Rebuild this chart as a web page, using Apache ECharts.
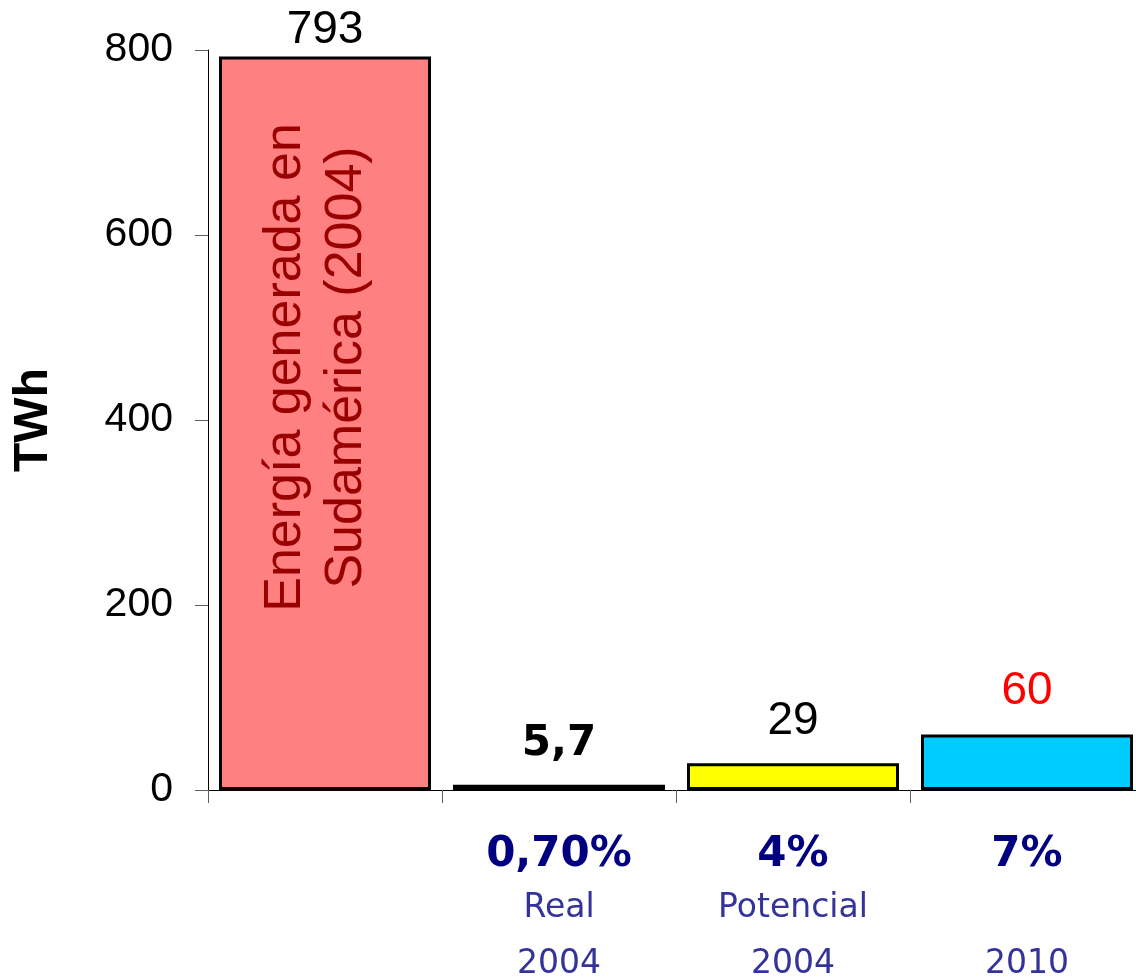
<!DOCTYPE html>
<html>
<head>
<meta charset="utf-8">
<script src="https://cdn.jsdelivr.net/npm/echarts@6/dist/echarts.min.js"></script>
<style>html,body{margin:0;padding:0;background:#fff;}#c{width:1136px;height:977px;}</style>
</head>
<body>
<div id="c"></div>
<script>
const categories = ['total', 'real2004', 'pot2004', 'fut2010'];
const pctLabels = ['', '0,70%', '4%', '7%'];
const subLabels = ['', 'Real', 'Potencial', ' '];
const yearLabels = ['', '2004', '2004', '2010'];
const values = [793, 5.7, 29, 60];
const valueLabels = ['793', '5,7', '29', '60'];
const barColors = ['#FF8080', '#800000', '#FFFF00', '#00CCFF'];
const valueLabelColors = ['#000000', '#000000', '#000000', '#FF0000'];
const valueLabelFonts = ['Liberation Sans', 'DejaVu Sans', 'Liberation Sans', 'Liberation Sans'];
const valueLabelWeights = ['normal', 'bold', 'normal', 'normal'];
const valueLabelSizes = [46, 42, 46, 46];
const valueLabelDistances = [3, 20, 19, 20];
const insideText = 'Energía generada en\nSudamérica (2004)';
const yTicks = { min: 0, max: 800, interval: 200 };

const chart = echarts.init(document.getElementById('c'), null, { renderer: 'canvas' });

const mainData = values.map((v, i) => ({
  value: v,
  itemStyle: { color: barColors[i], borderColor: '#000', borderWidth: 3 },
  label: {
    show: true,
    position: 'top',
    distance: valueLabelDistances[i],
    formatter: valueLabels[i],
    color: valueLabelColors[i],
    fontFamily: valueLabelFonts[i],
    fontWeight: valueLabelWeights[i],
    fontSize: valueLabelSizes[i]
  }
}));

const overlayData = values.map((v, i) => i === 0 ? {
  value: v,
  label: {
    show: true,
    position: ['45.6%', '42.4%'],
    rotate: 90,
    align: 'center',
    verticalAlign: 'middle',
    formatter: insideText,
    color: '#990000',
    fontFamily: 'Liberation Sans',
    fontSize: 52,
    lineHeight: 61,
    textShadowColor: '#b8b8b8',
    textShadowOffsetX: 2,
    textShadowOffsetY: 2,
    textShadowBlur: 0
  }
} : '-');

chart.setOption({
  animation: false,
  backgroundColor: '#ffffff',
  grid: { left: 208, top: 50, bottom: 187, right: -8, containLabel: false, outerBoundsMode: 'none' },
  xAxis: {
    type: 'category',
    data: categories,
    axisLine: { show: true, lineStyle: { color: '#000', width: 1 } },
    axisTick: { show: true, length: 13, alignWithLabel: false, lineStyle: { color: '#606060' } },
    axisLabel: {
      interval: 0,
      margin: 40,
      formatter: (val, idx) => idx === 0 ? '' : '{a|' + pctLabels[idx] + '}\n{b|' + subLabels[idx] + '}\n{c|' + yearLabels[idx] + '}',
      rich: {
        a: { fontFamily: 'DejaVu Sans', fontWeight: 'bold', fontSize: 42, color: '#000080', lineHeight: 50 },
        b: { fontFamily: 'DejaVu Sans', fontSize: 33, color: '#333399', lineHeight: 56 },
        c: { fontFamily: 'DejaVu Sans', fontSize: 33, color: '#333399', lineHeight: 56 }
      }
    }
  },
  yAxis: {
    type: 'value',
    min: yTicks.min,
    max: yTicks.max,
    interval: yTicks.interval,
    name: 'TWh',
    nameLocation: 'middle',
    nameRotate: 90,
    nameGap: 150,
    nameTextStyle: { fontFamily: 'Liberation Sans', fontWeight: 'bold', fontSize: 48, color: '#000' },
    splitLine: { show: false },
    axisLine: { show: true, lineStyle: { color: '#000', width: 1 } },
    axisTick: { show: true, length: 13, lineStyle: { color: '#606060' } },
    axisLabel: { margin: 35, fontFamily: 'Liberation Sans', fontSize: 41, color: '#000' }
  },
  series: [
    {
      type: 'bar',
      data: mainData,
      barWidth: 212,
      barGap: '-100%'
    },
    {
      type: 'bar',
      data: overlayData,
      barWidth: 212,
      barGap: '-100%',
      itemStyle: { color: 'rgba(0,0,0,0)' },
      silent: true
    }
  ]
});
</script>
</body>
</html>
